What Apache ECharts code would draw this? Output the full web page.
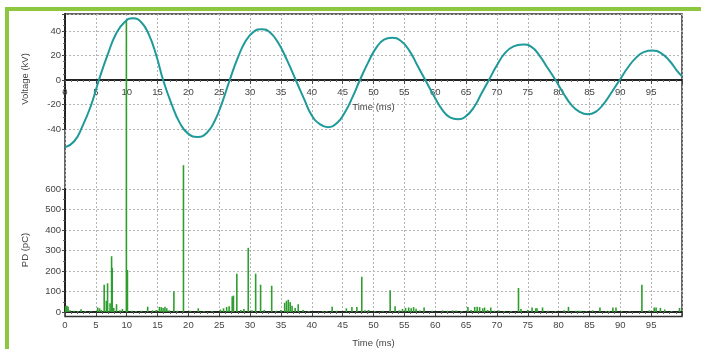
<!DOCTYPE html>
<html>
<head>
<meta charset="utf-8">
<script src="https://cdn.jsdelivr.net/npm/echarts@6/dist/echarts.min.js"></script>
<style>
  html, body { margin: 0; padding: 0; background: #fff; }
  #chart { width: 701px; height: 349px; }
</style>
</head>
<body>
<div id="chart"></div>
<script>
// voltage trace (ms, kV)
const voltTime = [0, 1.5, 2.8, 4.2, 5.5, 7, 8.3, 9.6, 11, 12.4, 13.6, 14.8, 15.9, 17.3, 18.6, 20, 21.5,
  23, 24.3, 25.5, 26.7, 28, 29.3, 30.6, 31.9, 33.2, 34.6, 36, 37.4, 38.8, 40, 41.3, 42.6, 44, 45.3,
  46.6, 47.8, 49.1, 50.4, 51.7, 53, 54.4, 55.8, 57.1, 58.4, 59.8, 61.1, 62.4, 63.7, 65, 66.3, 67.5,
  68.7, 70, 71.3, 72.7, 74.2, 75.6, 76.9, 78.2, 79.5, 80.8, 82.1, 83.4, 84.7, 86, 87.3, 88.6, 89.9,
  91.2, 92.6, 93.9, 95.2, 96.6, 98, 99.2, 100];
const voltKv = [-55, -50, -38, -21, 0, 22, 38, 47, 50.5, 47, 37, 20, 0, -20, -35, -44, -46.5,
  -43, -33, -18, 0, 18, 32, 39.5, 41.5, 39, 30, 16, 0, -16, -29, -36, -38.5, -35.5, -27,
  -14, 0, 14, 26, 33, 34.5, 32, 24, 12, 0, -13, -24, -30.5, -32, -29.5, -22, -11,
  0, 12, 22, 27.5, 29, 27, 20, 10, 0, -11, -20.5, -26, -28, -26, -19.5, -10, 0,
  10, 18.5, 23, 24, 22, 15.5, 7.5, 3];

// partial discharge pulses (ms, pC)
const pdTime = [0.1, 0.3, 0.5, 0.8, 1.5, 2.1, 2.6, 3.3, 4.2, 5.3, 5.6, 5.9, 6.35, 6.7, 6.9, 7.3, 7.55,
  7.65, 7.9, 8.35, 8.9, 9.3, 9.95, 10.12, 10.8, 11.5, 12.4, 13.4, 14.2, 14.8, 15.3, 15.6, 15.9, 16.2,
  16.5, 16.9, 17.65, 18.2, 19.2, 20.3, 21.6, 22.5, 23.8, 25.2, 25.7, 26.2, 26.6, 27.1, 27.3, 27.85,
  28.5, 29, 29.7, 30.3, 30.9, 31.7, 32.3, 33.5, 34.2, 35, 35.6, 35.9, 36.2, 36.5, 36.8, 37.3, 37.8,
  38.6, 39.5, 41.8, 42.4, 43.3, 44, 45.6, 46.5, 47.3, 48.1, 48.6, 49.2, 50.2, 51.5, 52.7, 53.5, 54.2,
  54.7, 55.2, 55.7, 56.1, 56.5, 56.9, 57.5, 58.2, 59.5, 61.2, 62, 62.8, 63.4, 64.3, 65.3, 65.8, 66.4,
  66.8, 67.2, 67.7, 68, 68.5, 69, 69.6, 70.3, 71.2, 72.3, 73.5, 73.9, 75, 75.7, 76.3, 76.5, 77.4,
  78.3, 79.5, 80.9, 81.6, 82.8, 83.3, 83.6, 84.5, 85.5, 86.7, 87.7, 88.2, 88.8, 89.3, 90.2, 91.5,
  93.5, 94.7, 95.5, 95.8, 96.5, 97.2, 98.3, 99.6];
const pdPc = [28, 30, 26, 8, 6, 5, 14, 5, 4, 22, 18, 10, 133, 55, 140, 43, 272,
  215, 20, 38, 8, 15, 1423, 205, 6, 5, 6, 26, 8, 10, 25, 24, 20, 26,
  18, 8, 101, 6, 716, 6, 18, 5, 5, 12, 18, 25, 28, 76, 80, 187,
  10, 15, 313, 8, 187, 133, 10, 128, 6, 10, 45, 55, 60, 48, 30, 20, 38,
  10, 5, 5, 5, 26, 6, 18, 25, 25, 172, 8, 10, 5, 6, 106, 28, 8,
  15, 20, 22, 18, 24, 16, 8, 22, 6, 8, 6, 8, 7, 5, 25, 10, 25,
  26, 24, 18, 22, 10, 22, 6, 8, 5, 5, 117, 15, 10, 22, 18, 18, 22,
  6, 5, 8, 25, 6, 6, 6, 4, 8, 22, 5, 5, 22, 22, 5, 4,
  133, 8, 22, 22, 20, 12, 5, 20];

const voltTicks = [-40, -20, 0, 20, 40];
const pdTicks = [0, 100, 200, 300, 400, 500, 600];

const FONT = "'Liberation Sans', Arial, sans-serif";
const TEXT = "#444";
const gridDots = { color: "#b4b4b4", width: 1, type: [2, 2] };

const chart = echarts.init(document.getElementById("chart"), null, { renderer: "canvas" });

const timeAxis = (gridIndex, extra) => Object.assign({
  type: "value",
  gridIndex,
  min: 0,
  max: 100,
  interval: 5,
  axisLine: { show: true, onZero: false, lineStyle: { color: "#222", width: 2 } },
  axisTick: { show: true, length: 4, lineStyle: { color: "#444" } },
  minorTick: { show: true, splitNumber: 5, length: 2, lineStyle: { color: "#666" } },
  axisLabel: {
    color: TEXT, fontSize: 9.5, fontFamily: FONT, margin: 8,
    formatter: (v) => (v === 100 ? "" : String(v)),
  },
  splitLine: { show: false },
  name: "Time (ms)",
  nameLocation: "middle",
  nameGap: 26,
  nameTextStyle: { color: TEXT, fontSize: 9.5, fontFamily: FONT },
}, extra);

chart.setOption({
  animation: false,
  backgroundColor: "#fff",
  graphic: [
    { type: "rect", shape: { x: 5, y: 7, width: 696, height: 4 }, style: { fill: "#8dc63f" } },
    { type: "rect", shape: { x: 5, y: 7, width: 4, height: 342 }, style: { fill: "#8dc63f" } },
    {
      type: "text", x: 25, y: 79, rotation: Math.PI / 2,
      style: { text: "Voltage (kV)", fill: TEXT, font: "9.5px " + FONT, align: "center", verticalAlign: "middle" },
    },
    {
      type: "text", x: 25, y: 250, rotation: Math.PI / 2,
      style: { text: "PD (pC)", fill: TEXT, font: "9.5px " + FONT, align: "center", verticalAlign: "middle" },
    },
  ],
  grid: [
    { left: 65, top: 14, width: 617, height: 115 },
    { left: 65, top: 189, width: 617, height: 127.5 },
    { left: 65, top: 14, width: 617, height: 302.5, show: true, borderColor: "#333", borderWidth: 1.5, backgroundColor: "transparent" },
  ],
  xAxis: [
    // upper time axis sits on the 0 kV line: 49 px above the grid bottom
    timeAxis(0, { offset: -49, nameGap: 22, axisLabel: {
      color: TEXT, fontSize: 9.5, fontFamily: FONT, margin: 7,
      formatter: (v) => (v === 100 ? "" : String(v)),
    } }),
    timeAxis(1, {}),
    {
      type: "value", gridIndex: 2, min: 0, max: 100, interval: 5,
      axisLine: { show: false }, axisTick: { show: false }, axisLabel: { show: false },
      splitLine: { show: true, lineStyle: gridDots },
    },
  ],
  yAxis: [
    {
      type: "value", gridIndex: 0, min: -40, max: 53.9, interval: 20,
      axisLine: { show: true, lineStyle: { color: "#222", width: 2 } },
      axisTick: { show: true, length: 3, lineStyle: { color: "#444" } },
      minorTick: { show: true, splitNumber: 4, length: 2, lineStyle: { color: "#666" } },
      axisLabel: {
        color: TEXT, fontSize: 9.5, fontFamily: FONT, margin: 4,
        formatter: (v) => (voltTicks.includes(v) ? String(v) : ""),
      },
      splitLine: { show: true, lineStyle: gridDots },
    },
    {
      type: "value", gridIndex: 1, min: 0, max: 600, interval: 100,
      axisLine: { show: true, lineStyle: { color: "#222", width: 2 } },
      axisTick: { show: true, length: 3, lineStyle: { color: "#444" } },
      minorTick: { show: true, splitNumber: 2, length: 2, lineStyle: { color: "#666" } },
      axisLabel: {
        color: TEXT, fontSize: 9.5, fontFamily: FONT, margin: 4,
        formatter: (v) => (pdTicks.includes(v) ? String(v) : ""),
      },
      splitLine: { show: true, lineStyle: gridDots },
    },
    { type: "value", gridIndex: 2, show: false, min: 0, max: 1 },
  ],
  series: [
    {
      type: "bar",
      xAxisIndex: 1,
      yAxisIndex: 1,
      data: pdTime.map((t, i) => [t, pdPc[i]]),
      barWidth: 1.6,
      clip: false,
      itemStyle: { color: "#2f9e2f" },
      z: 2,
    },
    {
      type: "line",
      xAxisIndex: 0,
      yAxisIndex: 0,
      data: voltTime.map((t, i) => [t, voltKv[i]]),
      smooth: true,
      showSymbol: false,
      clip: false,
      lineStyle: { color: "#1f9a9a", width: 2 },
      z: 3,
    },
  ],
});
</script>
</body>
</html>
